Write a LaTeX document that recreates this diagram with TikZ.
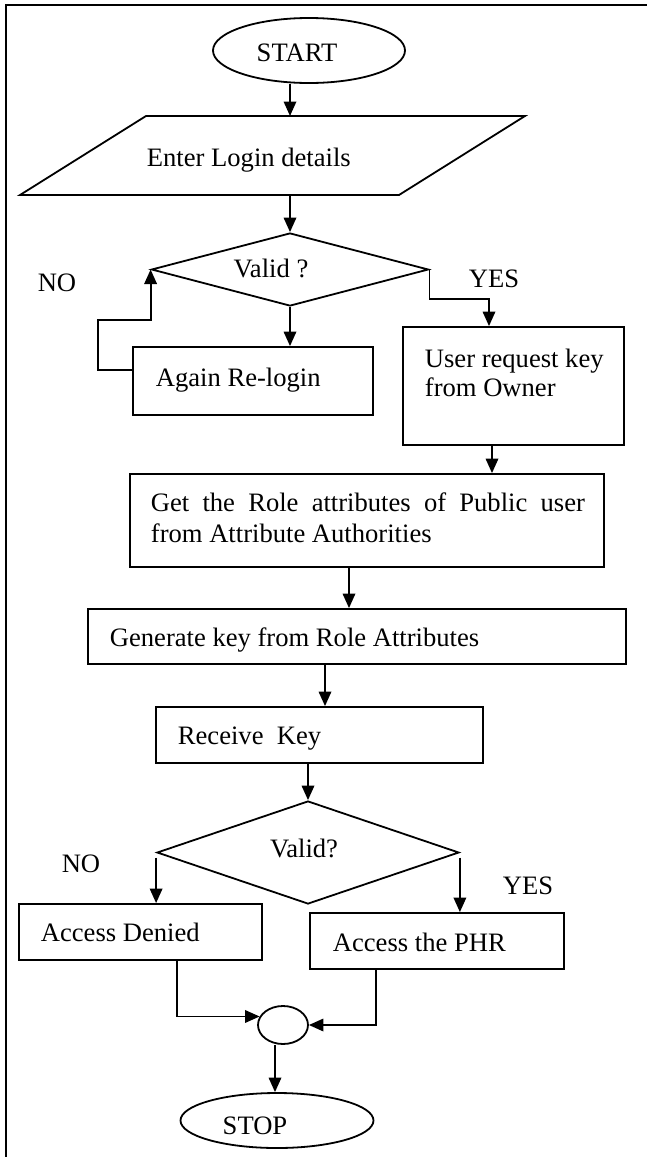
\documentclass[tikz,border=0pt]{standalone}
\usepackage{fontspec}
\setmainfont{Liberation Serif}
\usetikzlibrary{shapes.geometric,arrows.meta}
\begin{document}
\begin{tikzpicture}[x=1pt,y=-1pt,line width=1.8pt,
  shapebox/.style={draw,rectangle,inner sep=0pt},
  oval/.style={draw,ellipse,inner sep=0pt},
  decision/.style={draw,diamond,inner sep=0pt},
  txt/.style={anchor=base west,inner sep=0pt,font=\fontsize{26.6}{30}\selectfont},
  ctxt/.style={anchor=base,inner sep=0pt,font=\fontsize{26.6}{30}\selectfont},
  arr/.style={-{Triangle[length=14.5pt,width=12.5pt]}}]
\useasboundingbox (0,0) rectangle (646,1157);
% frame
\draw (6,1160) -- (6,5) -- (650,5);
% shapes
\node[oval,minimum width=192pt,minimum height=65pt] (start) at (309,50.5) {};
\coordinate (pTL) at (146,116);
\coordinate (pTR) at (525,116);
\coordinate (pBR) at (399,195);
\coordinate (pBL) at (20,195);
\draw (pTL) -- (pTR) -- (pBR) -- (pBL) -- cycle;
\coordinate (pTop) at (290,116);
\coordinate (pBot) at (290,195);
\node[decision,minimum width=277pt,minimum height=73pt] (d1) at (290,269.5) {};
\node[shapebox,minimum width=240pt,minimum height=68pt] (again) at (253,381) {};
\node[shapebox,minimum width=221pt,minimum height=118pt] (user) at (513.5,386) {};
\node[shapebox,minimum width=474pt,minimum height=93pt] (get) at (367,520.5) {};
\node[shapebox,minimum width=538pt,minimum height=55pt] (gen) at (357,636.5) {};
\node[shapebox,minimum width=327pt,minimum height=56pt] (recv) at (319.5,735) {};
\node[decision,minimum width=302pt,minimum height=103pt] (d2) at (308,852.5) {};
\node[shapebox,minimum width=243pt,minimum height=56pt] (denied) at (140.5,932) {};
\node[shapebox,minimum width=254pt,minimum height=56pt] (phr) at (437,941) {};
\node[oval,minimum width=50pt,minimum height=38pt] (circ) at (283,1025) {};
\node[oval,minimum width=193pt,minimum height=55pt] (stop) at (277,1120.5) {};
% texts
\node[ctxt] (tstart) at (297,61) {START};
\node[txt] (tenter) at (146,166) {Enter Login details};
\node[ctxt] (tvalid1) at (271,277) {Valid ?};
\node[ctxt] (tno1) at (57,291) {NO};
\node[ctxt] (tyes1) at (494,287) {YES};
\node[txt] (tagain) at (155,386) {Again Re-login};
\node[txt] (tuser1) at (424,367) {User request key};
\node[txt] (tuser2) at (424,396) {from Owner};
\node[txt] (tget1) at (150,511) {\makebox[434pt][s]{Get the Role attributes of Public user}};
\node[txt] (tget2) at (150,542) {from Attribute Authorities};
\node[txt] (tgen) at (109,646) {Generate key from Role Attributes};
\node[txt] (trecv) at (177,744) {Receive\ \ Key};
\node[ctxt] (tvalid2) at (304,857) {Valid?};
\node[ctxt] (tno2) at (81,872) {NO};
\node[ctxt] (tyes2) at (528,894) {YES};
\node[txt] (tdenied) at (40,941) {Access Denied};
\node[txt] (tphr) at (332,951) {Access the PHR};
\node[ctxt] (tstop) at (255,1134) {STOP};
% connector x positions
\coordinate (xA) at (492,0);
\coordinate (xB) at (349,0);
\coordinate (xC) at (325,0);
\coordinate (xD) at (177,0);
\coordinate (xE) at (376,0);
\coordinate (xF) at (275,0);
\coordinate (xL) at (98,0);
\coordinate (xU) at (489,0);
% connectors
\draw[arr] (start.south -| pTop) -- (pTop);
\draw[arr] (pBot) -- (d1.north);
\draw[arr] (d1.south) -- (again.north -| d1.south);
\draw[arr] ([yshift=11pt]again.west) -| ([yshift=-50.5pt]d1.west -| xL) -| (d1.west);
\draw[arr] (d1.east) -- ++(0,29.5) -| (user.north -| xU);
\draw[arr] (user.south -| xA) -- (get.north -| xA);
\draw[arr] (get.south -| xB) -- (gen.north -| xB);
\draw[arr] (gen.south -| xC) -- (recv.north -| xC);
\draw[arr] (recv.south -| d2.north) -- (d2.north);
\draw[arr] ([yshift=-5pt]d2.west) -- (denied.north -| d2.west);
\draw[arr] ([yshift=-5pt]d2.east) -- (phr.north -| d2.east);
\draw[arr] (denied.south -| xD) |- (circ.160);
\draw[arr] (phr.south -| xE) |- (circ.east);
\draw[arr] (circ.south -| xF) -- (stop.north -| xF);
\end{tikzpicture}
\end{document}
